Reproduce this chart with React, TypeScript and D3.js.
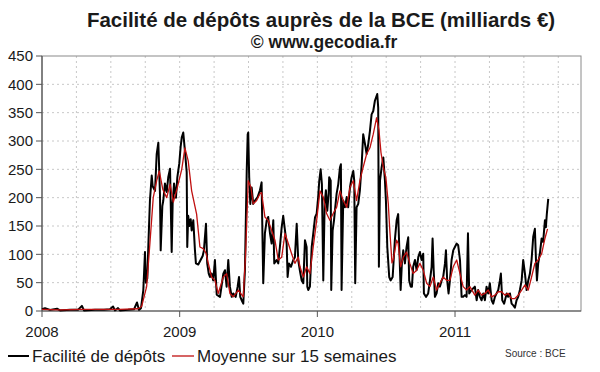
import React from 'react';
import * as d3 from 'd3';

// --- DATA (decimal year, milliards €) ---
const yearTicks = [2008, 2009, 2010, 2011];
const quarterGrid = [2008.25, 2008.5, 2008.75, 2009.25, 2009.5, 2009.75, 2010.25, 2010.5, 2010.75, 2011.25, 2011.5, 2011.75];
const valueTicks = [0, 50, 100, 150, 200, 250, 300, 350, 400, 450];

const depots: [number, number][] = [
  [2008.000, 3], [2008.022, 5], [2008.058, 2], [2008.109, 4], [2008.131, 1], [2008.203, 2], [2008.261, 2],
  [2008.290, 9], [2008.305, 1], [2008.385, 2], [2008.450, 2], [2008.494, 3], [2008.516, 8], [2008.530, 1],
  [2008.552, 5], [2008.566, 1], [2008.625, 2], [2008.668, 3], [2008.690, 15], [2008.704, 2], [2008.719, 5],
  [2008.736, 37], [2008.748, 104], [2008.755, 50], [2008.765, 58], [2008.773, 120], [2008.784, 195],
  [2008.797, 239], [2008.804, 220], [2008.821, 212], [2008.833, 277], [2008.845, 297], [2008.857, 205],
  [2008.862, 107], [2008.874, 185], [2008.881, 195], [2008.893, 225], [2008.906, 210], [2008.917, 236],
  [2008.930, 251], [2008.942, 104], [2008.949, 190], [2008.959, 225], [2008.973, 200], [2008.983, 236],
  [2008.997, 260], [2009.007, 290], [2009.015, 306], [2009.026, 315], [2009.038, 283], [2009.051, 245],
  [2009.055, 113], [2009.062, 168], [2009.070, 150], [2009.080, 162], [2009.087, 142], [2009.099, 160],
  [2009.111, 107], [2009.118, 84], [2009.135, 82], [2009.152, 90], [2009.167, 97], [2009.176, 107],
  [2009.191, 154], [2009.200, 84], [2009.211, 66], [2009.220, 60], [2009.232, 66], [2009.244, 54],
  [2009.256, 90], [2009.269, 29], [2009.293, 25], [2009.317, 66], [2009.329, 72], [2009.341, 43],
  [2009.353, 90], [2009.365, 43], [2009.378, 25], [2009.389, 31], [2009.407, 25], [2009.421, 43],
  [2009.431, 60], [2009.440, 25], [2009.450, 19], [2009.462, 13], [2009.474, 72], [2009.487, 247],
  [2009.494, 312], [2009.498, 315], [2009.505, 236], [2009.513, 189], [2009.523, 218], [2009.534, 189],
  [2009.547, 195], [2009.566, 201], [2009.583, 213], [2009.595, 227], [2009.607, 49], [2009.619, 137],
  [2009.632, 160], [2009.643, 166], [2009.656, 137], [2009.668, 119], [2009.680, 160], [2009.687, 84],
  [2009.704, 90], [2009.716, 84], [2009.728, 113], [2009.741, 148], [2009.752, 168], [2009.765, 142],
  [2009.777, 119], [2009.784, 60], [2009.794, 84], [2009.808, 78], [2009.825, 90], [2009.837, 95],
  [2009.850, 154], [2009.861, 90], [2009.874, 70], [2009.886, 54], [2009.898, 49], [2009.910, 125],
  [2009.922, 113], [2009.927, 43], [2009.934, 37], [2009.946, 43], [2009.959, 113], [2009.970, 136],
  [2009.983, 165], [2009.995, 172], [2010.006, 201], [2010.014, 230], [2010.024, 250], [2010.033, 224],
  [2010.038, 142], [2010.043, 54], [2010.053, 189], [2010.062, 213], [2010.072, 177], [2010.082, 207],
  [2010.086, 236], [2010.097, 230], [2010.101, 37], [2010.111, 142], [2010.121, 160], [2010.130, 183],
  [2010.140, 207], [2010.152, 224], [2010.164, 253], [2010.171, 259], [2010.176, 37], [2010.188, 195],
  [2010.200, 183], [2010.213, 201], [2010.224, 183], [2010.237, 218], [2010.249, 236], [2010.261, 247],
  [2010.268, 230], [2010.275, 49], [2010.285, 183], [2010.297, 189], [2010.309, 213], [2010.322, 259],
  [2010.333, 312], [2010.346, 295], [2010.358, 277], [2010.370, 295], [2010.382, 318], [2010.394, 347],
  [2010.406, 353], [2010.418, 371], [2010.435, 383], [2010.442, 359], [2010.447, 78], [2010.455, 230],
  [2010.467, 254], [2010.479, 271], [2010.491, 230], [2010.498, 195], [2010.508, 113], [2010.522, 60],
  [2010.532, 54], [2010.547, 60], [2010.563, 125], [2010.576, 160], [2010.587, 171], [2010.595, 113],
  [2010.605, 37], [2010.614, 84], [2010.624, 107], [2010.636, 84], [2010.648, 113], [2010.660, 130],
  [2010.667, 54], [2010.678, 43], [2010.687, 43], [2010.696, 78], [2010.709, 90], [2010.721, 72],
  [2010.733, 95], [2010.745, 104], [2010.757, 90], [2010.769, 101], [2010.774, 31], [2010.789, 25],
  [2010.805, 31], [2010.818, 54], [2010.830, 78], [2010.837, 128], [2010.845, 72], [2010.854, 25],
  [2010.866, 31], [2010.878, 49], [2010.890, 43], [2010.903, 54], [2010.914, 60], [2010.927, 84],
  [2010.934, 107], [2010.943, 54], [2010.953, 31], [2010.963, 54], [2010.975, 90], [2010.987, 107],
  [2010.999, 113], [2011.012, 119], [2011.023, 116], [2011.036, 90], [2011.048, 25], [2011.059, 25],
  [2011.072, 28], [2011.084, 25], [2011.094, 137], [2011.103, 31], [2011.120, 37], [2011.144, 43],
  [2011.157, 19], [2011.168, 37], [2011.181, 25], [2011.193, 19], [2011.205, 31], [2011.217, 19],
  [2011.229, 43], [2011.241, 31], [2011.253, 49], [2011.266, 19], [2011.277, 13], [2011.290, 25],
  [2011.302, 31], [2011.314, 37], [2011.326, 54], [2011.333, 66], [2011.343, 19], [2011.357, 13],
  [2011.375, 31], [2011.386, 25], [2011.399, 31], [2011.411, 13], [2011.423, 10], [2011.435, 6],
  [2011.447, 19], [2011.459, 25], [2011.471, 37], [2011.484, 54], [2011.495, 90], [2011.508, 66],
  [2011.520, 37], [2011.532, 54], [2011.544, 66], [2011.556, 90], [2011.568, 131], [2011.580, 145],
  [2011.588, 90], [2011.595, 54], [2011.604, 84], [2011.616, 101], [2011.629, 128], [2011.640, 122],
  [2011.653, 160], [2011.660, 148], [2011.667, 172], [2011.677, 198],
];

const moyenne15: [number, number][] = [
  [2008.000, 3], [2008.131, 2], [2008.276, 3], [2008.421, 3], [2008.566, 3], [2008.697, 4], [2008.724, 8],
  [2008.760, 43], [2008.784, 120], [2008.808, 200], [2008.833, 230], [2008.852, 247], [2008.877, 215],
  [2008.906, 200], [2008.930, 224], [2008.954, 192], [2008.983, 218], [2009.015, 250], [2009.038, 288],
  [2009.062, 265], [2009.087, 212], [2009.123, 171], [2009.147, 113], [2009.171, 110], [2009.191, 102],
  [2009.208, 84], [2009.232, 60], [2009.256, 54], [2009.280, 31], [2009.317, 60], [2009.341, 66],
  [2009.365, 31], [2009.389, 25], [2009.426, 37], [2009.462, 25], [2009.479, 101], [2009.498, 230],
  [2009.518, 218], [2009.534, 189], [2009.559, 195], [2009.583, 207], [2009.595, 209], [2009.619, 166],
  [2009.643, 160], [2009.668, 142], [2009.692, 125], [2009.716, 90], [2009.741, 95], [2009.765, 137],
  [2009.789, 119], [2009.813, 101], [2009.837, 84], [2009.861, 95], [2009.874, 78], [2009.898, 60],
  [2009.922, 78], [2009.946, 66], [2009.970, 113], [2009.995, 160], [2010.019, 212], [2010.043, 201],
  [2010.067, 172], [2010.091, 160], [2010.115, 172], [2010.140, 183], [2010.164, 212], [2010.188, 195],
  [2010.213, 183], [2010.237, 218], [2010.261, 230], [2010.285, 195], [2010.309, 230], [2010.333, 254],
  [2010.358, 277], [2010.382, 288], [2010.406, 312], [2010.430, 341], [2010.447, 320], [2010.462, 280],
  [2010.479, 254], [2010.498, 235], [2010.515, 190], [2010.527, 140], [2010.542, 85], [2010.551, 90],
  [2010.576, 125], [2010.587, 119], [2010.605, 78], [2010.624, 95], [2010.648, 104], [2010.672, 84],
  [2010.696, 66], [2010.721, 72], [2010.745, 84], [2010.769, 72], [2010.794, 49], [2010.818, 43],
  [2010.842, 60], [2010.866, 37], [2010.890, 49], [2010.914, 60], [2010.939, 54], [2010.963, 54],
  [2010.987, 78], [2011.012, 90], [2011.036, 66], [2011.059, 43], [2011.084, 37], [2011.108, 43],
  [2011.144, 28], [2011.168, 37], [2011.193, 28], [2011.217, 31], [2011.241, 37], [2011.266, 25],
  [2011.290, 28], [2011.314, 34], [2011.338, 34], [2011.362, 28], [2011.386, 31], [2011.411, 22],
  [2011.435, 22], [2011.459, 28], [2011.484, 37], [2011.508, 46], [2011.532, 37], [2011.556, 60],
  [2011.580, 84], [2011.604, 90], [2011.629, 101], [2011.653, 128], [2011.672, 145],
];

const title = 'Facilité de dépôts auprès de la BCE (milliards €)';
const subtitle = '© www.gecodia.fr';
const legendLabels = ['Facilité de dépôts', 'Moyenne sur 15 semaines'];
const sourceLabel = 'Source : BCE';

const FONT = '"Liberation Sans", Arial, sans-serif';

export default function App() {
  const W = 600, H = 372;
  const margin = { top: 56, left: 42, right: 19, bottom: 61 };
  const innerW = W - margin.left - margin.right;
  const innerH = H - margin.top - margin.bottom;

  const x = d3.scaleLinear().domain([2008, 2011.915]).range([0, innerW]);
  const y = d3.scaleLinear().domain([0, 450]).range([innerH, 0]);

  const line = d3.line<[number, number]>()
    .x(d => x(d[0]))
    .y(d => y(d[1]));

  return (
    <svg width={W} height={H} style={{ position: 'absolute', left: 0, top: 0, background: '#fff' }}
      fontFamily={FONT}>
      <rect width={W} height={H} fill="#fff" />
      <text x={321} y={27} textAnchor="middle" fontSize={20.5} fontWeight="bold" fill="#1a1a1a">{title}</text>
      <text x={324} y={48} textAnchor="middle" fontSize={17.5} fontWeight="bold" fill="#1a1a1a">{subtitle}</text>

      <g transform={`translate(${margin.left},${margin.top})`}>
        {/* dashed grid */}
        {valueTicks.slice(1, -1).map(v => (
          <line key={'h' + v} x1={0} x2={innerW} y1={y(v)} y2={y(v)}
            stroke="#c8c8c8" strokeWidth={1} strokeDasharray="2,3" />
        ))}
        {quarterGrid.concat(yearTicks.slice(1)).map(t => (
          <line key={'v' + t} x1={x(t)} x2={x(t)} y1={0} y2={innerH}
            stroke="#c8c8c8" strokeWidth={1} strokeDasharray="2,3" />
        ))}

        {/* frame */}
        <rect x={0} y={0} width={innerW} height={innerH} fill="none" stroke="#8a8a8a" strokeWidth={1} />
        <line x1={0} x2={0} y1={0} y2={innerH} stroke="#555" strokeWidth={1.2} />
        <line x1={0} x2={innerW} y1={innerH} y2={innerH} stroke="#555" strokeWidth={1.2} />

        {/* y ticks */}
        {valueTicks.map(v => (
          <g key={'yt' + v} transform={`translate(0,${y(v)})`}>
            <line x1={-6} x2={0} stroke="#555" />
            <text x={-9} dy="0.36em" textAnchor="end" fontSize={15} fill="#1a1a1a">{v}</text>
          </g>
        ))}

        {/* x ticks */}
        {yearTicks.map(t => (
          <g key={'xt' + t} transform={`translate(${x(t)},${innerH})`}>
            <line y1={0} y2={6} stroke="#555" />
            <text y={26} textAnchor="middle" fontSize={15} fill="#1a1a1a">{t}</text>
          </g>
        ))}

        {/* series */}
        <path d={line(depots) || ''} fill="none" stroke="#000" strokeWidth={2} strokeLinejoin="round" />
        <path d={line(moyenne15) || ''} fill="none" stroke="#c01010" strokeWidth={1.3} strokeLinejoin="round" />
      </g>

      {/* legend */}
      <line x1={8} x2={29} y1={356} y2={356} stroke="#000" strokeWidth={2} />
      <text x={32} y={362} fontSize={17} fill="#1a1a1a">{legendLabels[0]}</text>
      <line x1={172} x2={194} y1={356} y2={356} stroke="#c01010" strokeWidth={1.3} />
      <text x={197} y={362} fontSize={17} fill="#1a1a1a">{legendLabels[1]}</text>
      <text x={505} y={357} fontSize={10} fill="#333">{sourceLabel}</text>
    </svg>
  );
}
